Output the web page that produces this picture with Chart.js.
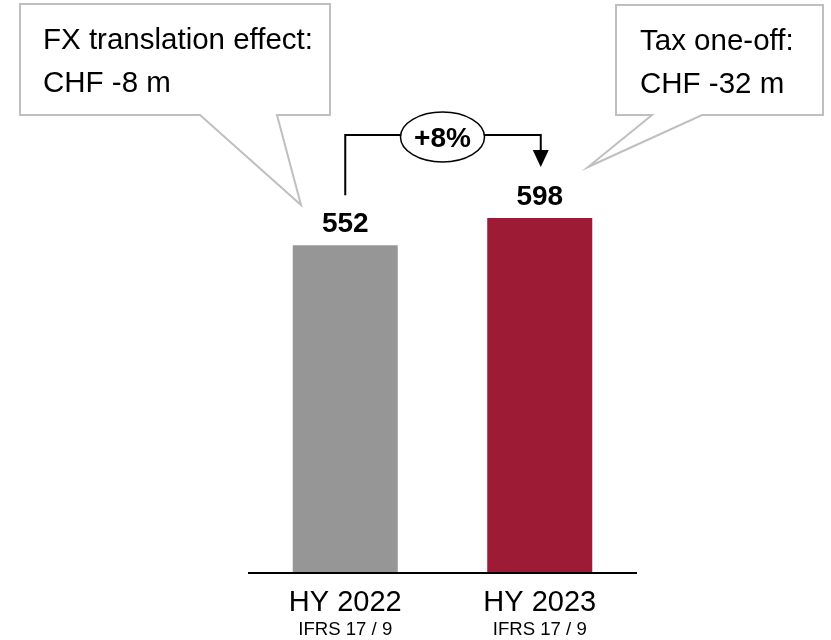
<!DOCTYPE html>
<html>
<head>
<meta charset="utf-8">
<script src="https://cdn.jsdelivr.net/npm/chart.js@4/dist/chart.umd.min.js"></script>
<style>
  body { margin: 0; background: #fff; }
  canvas { display: block; }
</style>
</head>
<body>
<canvas id="chart" width="831" height="640"></canvas>
<script>
// data
const categories = ['HY 2022', 'HY 2023'];
const subLabels = ['IFRS 17 / 9', 'IFRS 17 / 9'];
const values = [552, 598];
const growthLabel = '+8%';
const leftNote = ['FX translation effect:', 'CHF -8 m'];
const rightNote = ['Tax one-off:', 'CHF -32 m'];

const barColors = ['#969696', '#9e1b36'];
const FONT = '"Liberation Sans", Arial, Helvetica, sans-serif';

function callout(ctx, x0, y0, x1, y1, ptr, lines, tx) {
  ctx.save();
  ctx.beginPath();
  ctx.moveTo(x0, y0);
  ctx.lineTo(x1, y0);
  ctx.lineTo(x1, y1);
  ctx.lineTo(ptr[2], y1);
  ctx.lineTo(ptr[4], ptr[5]);
  ctx.lineTo(ptr[0], y1);
  ctx.lineTo(x0, y1);
  ctx.closePath();
  ctx.fillStyle = '#fff';
  ctx.fill();
  ctx.strokeStyle = '#bfbfbf';
  ctx.lineWidth = 2;
  ctx.stroke();
  ctx.fillStyle = '#000';
  ctx.font = '29.5px ' + FONT;
  ctx.textAlign = 'left';
  ctx.textBaseline = 'alphabetic';
  ctx.fillText(lines[0], tx, y0 + 45);
  ctx.fillText(lines[1], tx, y0 + 88);
  ctx.restore();
}

const annotate = {
  id: 'annotate',
  afterDraw(chart) {
    const ctx = chart.ctx;
    const area = chart.chartArea;
    const bars = chart.getDatasetMeta(0).data;

    // baseline
    ctx.save();
    ctx.strokeStyle = '#000';
    ctx.lineWidth = 2;
    ctx.beginPath();
    ctx.moveTo(area.left, area.bottom + 1);
    ctx.lineTo(area.right, area.bottom + 1);
    ctx.stroke();

    // category labels
    ctx.fillStyle = '#000';
    ctx.textAlign = 'center';
    ctx.textBaseline = 'alphabetic';
    bars.forEach((b, i) => {
      ctx.font = '29px ' + FONT;
      ctx.fillText(categories[i], b.x, area.bottom + 39);
      ctx.font = '18.6px ' + FONT;
      ctx.fillText(subLabels[i], b.x, area.bottom + 63);
    });

    // value labels
    ctx.font = 'bold 28px ' + FONT;
    bars.forEach((b, i) => {
      ctx.fillText(String(values[i]), b.x, b.y - 13);
    });

    // growth bracket
    const a = bars[0], c = bars[1];
    const yTop = 135;
    ctx.lineWidth = 2;
    ctx.beginPath();
    ctx.moveTo(a.x, a.y - 50);
    ctx.lineTo(a.x, yTop);
    ctx.lineTo(c.x + 1, yTop);
    ctx.lineTo(c.x + 1, c.y - 66);
    ctx.stroke();
    ctx.beginPath();
    ctx.moveTo(c.x - 7, c.y - 68);
    ctx.lineTo(c.x + 9, c.y - 68);
    ctx.lineTo(c.x + 1, c.y - 51);
    ctx.closePath();
    ctx.fill();

    const ex = (a.x + c.x) / 2;
    ctx.beginPath();
    ctx.ellipse(ex, 137, 42, 25, 0, 0, Math.PI * 2);
    ctx.fillStyle = '#fff';
    ctx.fill();
    ctx.lineWidth = 1.5;
    ctx.stroke();
    ctx.fillStyle = '#000';
    ctx.font = 'bold 28px ' + FONT;
    ctx.textBaseline = 'middle';
    ctx.fillText(growthLabel, ex, 139);
    ctx.restore();

    // speech boxes
    callout(ctx, 20, 4, 330, 115, [200, 0, 277, 0, 301, 205], leftNote, 43);
    callout(ctx, 616, 5, 823, 115, [652, 0, 702, 0, 588, 167], rightNote, 640);
  }
};

new Chart(document.getElementById('chart').getContext('2d'), {
  type: 'bar',
  data: {
    labels: categories,
    datasets: [{
      data: values,
      backgroundColor: barColors,
      borderWidth: 0,
      categoryPercentage: 1,
      barPercentage: 0.54
    }]
  },
  options: {
    responsive: false,
    animation: false,
    layout: { padding: { left: 248, right: 194, top: 0, bottom: 68 } },
    scales: {
      x: { display: false },
      y: { display: false, min: 0, max: 966 }
    },
    plugins: { legend: { display: false }, tooltip: { enabled: false } }
  },
  plugins: [annotate]
});
</script>
</body>
</html>
